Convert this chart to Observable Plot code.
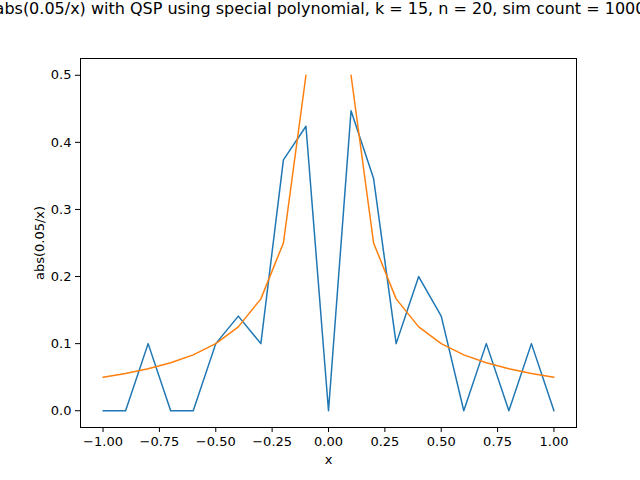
<!DOCTYPE html>
<html>
<head>
<meta charset="utf-8">
<script src="https://cdn.jsdelivr.net/npm/d3@7"></script>
<script src="https://cdn.jsdelivr.net/npm/@observablehq/plot@0.6"></script>
<style>
  body { margin: 0; background: white; font-family: "DejaVu Sans", sans-serif; }
  #wrap { position: relative; width: 640px; height: 480px; overflow: hidden; }
  #title { position: absolute; top: -1px; left: 0; width: 640px; display: flex; justify-content: center;
           white-space: nowrap; font-size: 16px; color: black; overflow: hidden; }
  #title span { flex: none; }
</style>
</head>
<body>
<div id="wrap">
  <div id="chart"></div>
  <div id="title"><span>abs(0.05/x) with QSP using special polynomial, k = 15, n = 20, sim count = 1000</span></div>
</div>
<script>
const xs = [-1, -0.9, -0.8, -0.7, -0.6, -0.5, -0.4, -0.3, -0.2, -0.1, 0, 0.1, 0.2, 0.3, 0.4, 0.5, 0.6, 0.7, 0.8, 0.9, 1];
const simulated = [0, 0, 0.1, 0, 0, 0.1, 0.141, 0.1, 0.374, 0.424, 0, 0.447, 0.346, 0.1, 0.2, 0.141, 0, 0.1, 0, 0.1, 0];
const exact = [0.05, 0.0556, 0.0625, 0.0714, 0.0833, 0.1, 0.125, 0.1667, 0.25, 0.5, null, 0.5, 0.25, 0.1667, 0.125, 0.1, 0.0833, 0.0714, 0.0625, 0.0556, 0.05];

const simData = xs.map((x, i) => ({x, y: simulated[i]}));
const exactData = xs.map((x, i) => ({x, y: exact[i]}));

const chart = Plot.plot({
  width: 640,
  height: 480,
  marginLeft: 80,
  marginRight: 64,
  marginTop: 58,
  marginBottom: 53,
  style: {fontFamily: "DejaVu Sans", fontSize: "13px", color: "black", background: "white"},
  x: {domain: [-1.1, 1.1]},
  y: {domain: [-0.025, 0.525]},
  marks: [
    Plot.frame({stroke: "black"}),
    Plot.axisX({ticks: [-1, -0.75, -0.5, -0.25, 0, 0.25, 0.5, 0.75, 1], tickFormat: d3.format(".2f"),
      label: "x", labelAnchor: "center", labelArrow: "none", labelOffset: 36, tickSize: 5}),
    Plot.axisY({ticks: [0, 0.1, 0.2, 0.3, 0.4, 0.5], tickFormat: d3.format(".1f"),
      label: "abs(0.05/x)", labelAnchor: "center", labelArrow: "none", labelOffset: 46, tickSize: 5}),
    Plot.line(simData, {x: "x", y: "y", stroke: "#1f77b4", strokeWidth: 1.5}),
    Plot.line(exactData, {x: "x", y: "y", stroke: "#ff7f0e", strokeWidth: 1.5})
  ]
});
document.getElementById("chart").append(chart);
</script>
</body>
</html>
